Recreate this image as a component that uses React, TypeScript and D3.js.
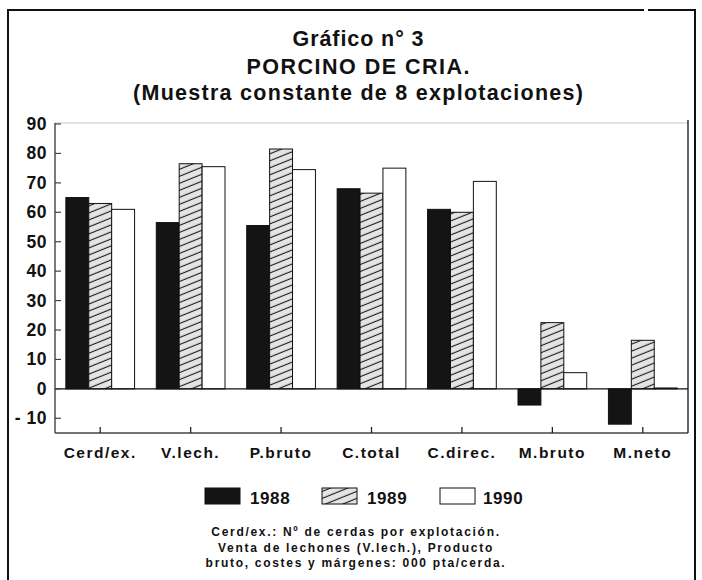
import React, { useEffect, useRef } from "react";
import * as d3 from "d3";

// chart data
const categories = ["Cerd/ex.", "V.lech.", "P.bruto", "C.total", "C.direc.", "M.bruto", "M.neto"];
const years = ["1988", "1989", "1990"];
const v1988 = [65, 56.5, 55.5, 68, 61, -5.5, -12];
const v1989 = [63, 76.5, 81.5, 66.5, 60, 22.5, 16.5];
const v1990 = [61, 75.5, 74.5, 75, 70.5, 5.5, 0.3];
const yTicks = [90, 80, 70, 60, 50, 40, 30, 20, 10, 0, -10];
const yTickLabels = ["90", "80", "70", "60", "50", "40", "30", "20", "10", "0", "- 10"];

const titleLines = ["Gráfico n° 3", "PORCINO DE CRIA.", "(Muestra constante de 8 explotaciones)"];
const noteLines = [
  "Cerd/ex.: Nº de cerdas por explotación.",
  "Venta de lechones (V.lech.), Producto",
  "bruto, costes y márgenes: 000 pta/cerda.",
];

const FONT = "'Liberation Sans', Arial, Helvetica, sans-serif";

function App() {
  const ref = useRef<SVGSVGElement | null>(null);

  useEffect(() => {
    const height = 580;
    const svg = d3.select(ref.current);
    svg.selectAll("*").remove();

    // plot box
    const left = 55,
      right = 688,
      top = 124,
      bottom = 433;

    const series = [v1988, v1989, v1990];

    // hatch pattern for 1989
    const defs = svg.append("defs");
    const pat = defs
      .append("pattern")
      .attr("id", "hatch")
      .attr("patternUnits", "userSpaceOnUse")
      .attr("width", 12)
      .attr("height", 6.5)
      .attr("patternTransform", "rotate(-22)");
    pat.append("rect").attr("width", 12).attr("height", 6.5).attr("fill", "#e4e4e4");
    pat
      .append("line")
      .attr("x1", 0)
      .attr("x2", 12)
      .attr("y1", 3.2)
      .attr("y2", 3.2)
      .attr("stroke", "#1a1a1a")
      .attr("stroke-width", 1.1);

    const fills = ["#141414", "url(#hatch)", "#ffffff"];

    // outer border
    svg
      .append("path")
      .attr("d", `M8,${height} L8,10 L644,10 M648,10 L695,10 L695,${height}`)
      .attr("fill", "none")
      .attr("stroke", "#111")
      .attr("stroke-width", 2);

    // titles
    const titleY = [46, 74, 100];
    const titleLen = [131, 223, 450];
    svg
      .selectAll("text.title")
      .data(titleLines)
      .enter()
      .append("text")
      .attr("class", "title")
      .attr("x", 358)
      .attr("y", (d, i) => titleY[i])
      .attr("text-anchor", "middle")
      .attr("font-family", FONT)
      .attr("font-weight", "bold")
      .attr("font-size", 21.5)
      .attr("fill", "#111")
      .attr("textLength", (d, i) => titleLen[i])
      .attr("lengthAdjust", "spacing")
      .text(d => d);

    // scales
    const x = d3.scaleBand().domain(categories).range([left, right]).paddingInner(0.24).paddingOuter(0.12);
    const xs = d3.scaleBand().domain(years).range([0, x.bandwidth()]);
    const y = d3.scaleLinear().domain([-15, 90]).range([bottom, top]);

    // faint top line
    svg
      .append("line")
      .attr("x1", left)
      .attr("x2", right)
      .attr("y1", top - 1)
      .attr("y2", top - 1)
      .attr("stroke", "#c8c8c8")
      .attr("stroke-width", 1.2);

    // bars
    series.forEach((vals, si) => {
      svg
        .append("g")
        .selectAll("rect")
        .data(vals)
        .enter()
        .append("rect")
        .attr("x", (d, i) => (x(categories[i]) as number) + (xs(years[si]) as number))
        .attr("width", xs.bandwidth())
        .attr("y", d => y(Math.max(0, d)))
        .attr("height", d => Math.abs(y(d) - y(0)))
        .attr("fill", fills[si])
        .attr("stroke", "#111")
        .attr("stroke-width", 1);
    });

    // zero line
    svg
      .append("line")
      .attr("x1", left)
      .attr("x2", right)
      .attr("y1", y(0))
      .attr("y2", y(0))
      .attr("stroke", "#111")
      .attr("stroke-width", 1.2);

    // y axis, ticks inward
    const yAxis = svg.append("g").attr("transform", `translate(${left},0)`);
    yAxis
      .append("line")
      .attr("y1", top - 1)
      .attr("y2", bottom)
      .attr("stroke", "#333")
      .attr("stroke-width", 1.3);
    yAxis
      .selectAll("line.tick")
      .data(yTicks)
      .enter()
      .append("line")
      .attr("class", "tick")
      .attr("x1", 0)
      .attr("x2", 6)
      .attr("y1", d => y(d))
      .attr("y2", d => y(d))
      .attr("stroke", "#444")
      .attr("stroke-width", 1.2);
    yAxis
      .selectAll("text")
      .data(yTicks)
      .enter()
      .append("text")
      .attr("x", -8)
      .attr("y", d => y(d) + 6)
      .attr("text-anchor", "end")
      .attr("font-family", FONT)
      .attr("font-weight", "bold")
      .attr("font-size", 17.5)
      .attr("letter-spacing", 0.5)
      .attr("fill", "#111")
      .text((d, i) => yTickLabels[i]);

    // x axis, ticks upward
    const xAxis = svg.append("g").attr("transform", `translate(0,${bottom})`);
    xAxis
      .append("line")
      .attr("x1", left)
      .attr("x2", right)
      .attr("stroke", "#444")
      .attr("stroke-width", 1.3);
    xAxis
      .selectAll("line.tick")
      .data(categories)
      .enter()
      .append("line")
      .attr("class", "tick")
      .attr("x1", d => (x(d) as number) + x.bandwidth() / 2)
      .attr("x2", d => (x(d) as number) + x.bandwidth() / 2)
      .attr("y1", 0)
      .attr("y2", -6)
      .attr("stroke", "#222")
      .attr("stroke-width", 1.3);
    xAxis
      .selectAll("text")
      .data(categories)
      .enter()
      .append("text")
      .attr("x", d => (x(d) as number) + x.bandwidth() / 2)
      .attr("y", 25)
      .attr("text-anchor", "middle")
      .attr("font-family", FONT)
      .attr("font-weight", "bold")
      .attr("font-size", 15.5)
      .attr("letter-spacing", 1.5)
      .attr("fill", "#111")
      .text(d => d);

    // right frame line
    svg
      .append("line")
      .attr("x1", right)
      .attr("x2", right)
      .attr("y1", top - 4)
      .attr("y2", bottom)
      .attr("stroke", "#111")
      .attr("stroke-width", 1.3);

    // legend
    const legendX = [205, 322, 440];
    const lg = svg
      .append("g")
      .selectAll("g")
      .data(years)
      .enter()
      .append("g")
      .attr("transform", (d, i) => `translate(${legendX[i]},488)`);
    lg.append("rect")
      .attr("width", 35)
      .attr("height", 16)
      .attr("fill", (d, i) => fills[i])
      .attr("stroke", "#111")
      .attr("stroke-width", 1);
    lg.append("text")
      .attr("x", (d, i) => (i === 2 ? 43 : 45))
      .attr("y", 16)
      .attr("font-family", FONT)
      .attr("font-weight", "bold")
      .attr("font-size", 17)
      .attr("letter-spacing", 0.6)
      .attr("fill", "#111")
      .text(d => d);

    // footnote
    svg
      .selectAll("text.note")
      .data(noteLines)
      .enter()
      .append("text")
      .attr("class", "note")
      .attr("x", 356)
      .attr("y", (d, i) => 536 + i * 15.5)
      .attr("text-anchor", "middle")
      .attr("font-family", FONT)
      .attr("font-weight", "bold")
      .attr("font-size", 12)
      .attr("letter-spacing", 1.7)
      .attr("fill", "#111")
      .text(d => d);
  }, []);

  return (
    <svg
      ref={ref}
      width={702}
      height={580}
      style={{ position: "absolute", left: 0, top: 0, background: "#fff", display: "block" }}
    />
  );
}

export default App;
